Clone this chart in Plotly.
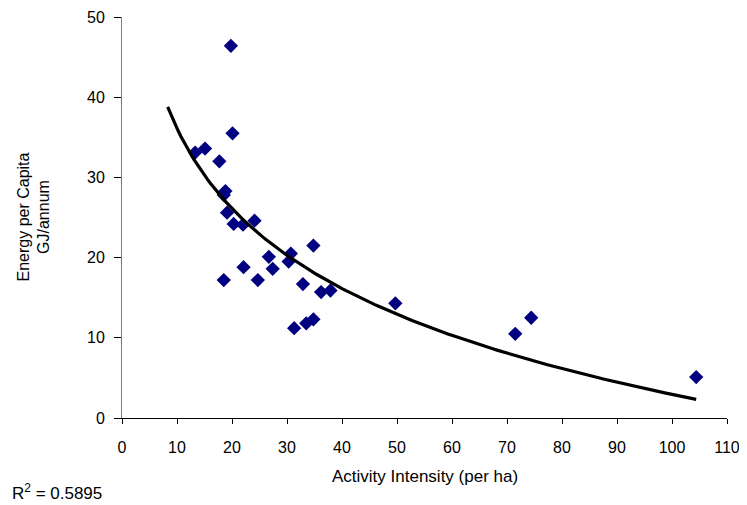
import numpy as np
import plotly.graph_objects as go

# Data
activity_intensity = [19.8, 20.1, 15.1, 13.3, 17.7, 18.8, 18.5, 19.1, 20.3, 22.0,
                      24.1, 34.8, 30.7, 30.3, 26.7, 22.1, 27.4, 18.5, 24.7, 32.9,
                      36.2, 37.9, 31.3, 33.5, 34.8, 49.7, 71.5, 74.4, 104.4]
energy_per_capita = [46.4, 35.5, 33.6, 33.1, 32.0, 28.3, 27.8, 25.6, 24.2, 24.1,
                     24.6, 21.5, 20.5, 19.5, 20.1, 18.8, 18.6, 17.2, 17.2, 16.7,
                     15.7, 15.9, 11.2, 11.8, 12.3, 14.3, 10.5, 12.5, 5.1]
x_ticks = [0, 10, 20, 30, 40, 50, 60, 70, 80, 90, 100, 110]
y_ticks = [0, 10, 20, 30, 40, 50]
r_squared_text = "0.5895"
backward_forecast = 5

# Logarithmic trendline (least squares on ln x), as in the spreadsheet
xa = np.array(activity_intensity)
ya = np.array(energy_per_capita)
a, b = np.polyfit(np.log(xa), ya, 1)
x_fit = np.linspace(xa.min() - backward_forecast, xa.max(), 200)
y_fit = a * np.log(x_fit) + b

font_family = "Liberation Sans, Arial, sans-serif"

fig = go.Figure()
fig.add_trace(go.Scatter(
    x=activity_intensity, y=energy_per_capita, mode="markers",
    marker=dict(symbol="diamond", size=11, color="#000080",
                line=dict(width=0)),
    showlegend=False, hoverinfo="x+y"))
fig.add_trace(go.Scatter(
    x=x_fit, y=y_fit, mode="lines",
    line=dict(color="black", width=3.2),
    showlegend=False, hoverinfo="skip"))

# the page adds an 8px body margin, so the figure is 8px smaller each way
fig.update_layout(
    width=739, height=497,
    margin=dict(l=114, r=20, t=9, b=87, autoexpand=False),
    paper_bgcolor="white", plot_bgcolor="white",
    font=dict(family=font_family, size=16, color="black"),
    xaxis=dict(range=[0, 110], tickvals=x_ticks, showgrid=False, zeroline=False,
               showline=True, linecolor="black", linewidth=1, automargin=False,
               ticks="outside", ticklen=5, tickcolor="black",
               ticklabelstandoff=10, tickfont=dict(size=16)),
    yaxis=dict(range=[0, 50], tickvals=y_ticks, showgrid=False, zeroline=False,
               showline=True, linecolor="#808080", linewidth=1, automargin=False,
               ticks="outside", ticklen=7, tickcolor="black",
               ticklabelstandoff=6, tickfont=dict(size=16)),
    annotations=[
        dict(text="Activity Intensity (per ha)", xref="paper", yref="paper",
             x=0.5, y=0, yshift=-58, xanchor="center", yanchor="middle",
             showarrow=False, font=dict(size=17)),
        dict(text="Energy per Capita<br>GJ/annum", xref="paper", yref="paper",
             x=0, xshift=-89, y=0.5, xanchor="center", yanchor="middle",
             textangle=-90, showarrow=False, font=dict(size=16)),
        dict(text="R<sup>2</sup> = " + r_squared_text, xref="paper", yref="paper",
             x=0, xshift=-112, y=0, yshift=-74, xanchor="left", yanchor="middle",
             showarrow=False, font=dict(size=17)),
    ],
)

fig.write_html("out.html")
